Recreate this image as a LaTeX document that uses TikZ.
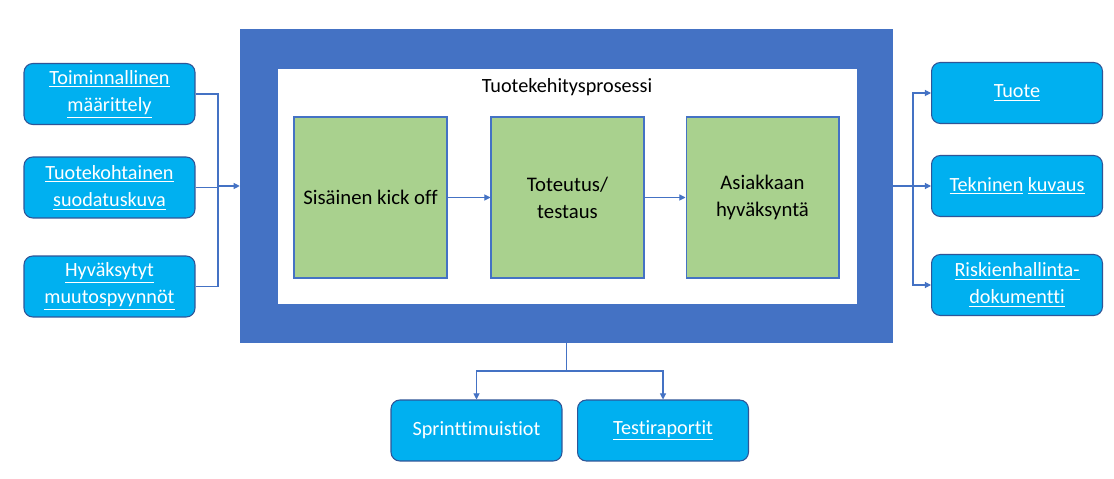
\documentclass[tikz,border=0pt]{standalone}
\usepackage{fontspec}
\setmainfont[Ligatures=NoCommon]{Carlito}
\usepackage{xcolor}
\definecolor{frameblue}{HTML}{4472C4}
\definecolor{boxblue}{HTML}{00B0F0}
\definecolor{boxedge}{HTML}{2F5597}
\definecolor{phasegreen}{HTML}{A9D18E}
\usepackage{tikz}
\usetikzlibrary{arrows.meta, positioning, calc}

\begin{document}
\begin{tikzpicture}[x=0.02cm, y=-0.02cm,
  outbox/.style={draw=boxedge, fill=boxblue, rounded corners=5pt, line width=0.6pt,
    minimum width=3.42cm, minimum height=1.22cm, align=center, text=white,
    font=\fontsize{11.5}{15.5}\selectfont},
  phase/.style={draw=frameblue, fill=phasegreen, line width=0.6pt,
    minimum width=3.06cm, minimum height=3.22cm, align=center,
    font=\fontsize{11.8}{15.5}\selectfont},
  conn/.style={draw=frameblue, line width=0.6pt, -{Triangle[length=3.5pt,width=3.5pt]}},
  wire/.style={draw=frameblue, line width=0.6pt}
]
  \fill[white] (0,0) rectangle (1114,479);
  \useasboundingbox (0,0) rectangle (1114,479);

  % process frame
  \node[fill=frameblue, inner sep=0pt, minimum width=13.06cm, minimum height=6.28cm] (frame) at (566.5,186) {};
  \node[fill=white, inner sep=0pt, minimum width=11.58cm, minimum height=4.7cm] (inner) at (567.5,186.5) {};
  \node[font=\fontsize{11.5}{15.5}\selectfont] (title) at (567,87) {Tuotekehitysprosessi};

  \node[phase] (kickoff) at (370.5,197.5) {Sisäinen kick off};
  \node[phase] (toteutus) at (567.5,197.5) {Toteutus/\\testaus};
  \node[phase] (hyvaksynta) at (762.5,197.5) {Asiakkaan\\hyväksyntä};

  \draw[conn] (kickoff) -- (toteutus);
  \draw[conn] (toteutus) -- (hyvaksynta);

  % inputs
  \node[outbox] (maarittely) at (109.5,94) {\underline{Toiminnallinen}\\\underline{määrittely}};
  \node[outbox] (suodatus) at (109.5,187.5) {\underline{Tuotekohtainen}\\\underline{suodatuskuva}};
  \node[outbox] (muutos) at (109.5,286.5) {\underline{Hyväksytyt}\\\underline{muutospyynnöt}};

  \coordinate (jin) at (218,186);
  \draw[wire] (maarittely.east) -| (jin);
  \draw[wire] (muutos.east) -| (jin);
  \draw[wire] (suodatus.east) -- (suodatus.east -| jin);
  \draw[conn] (jin) -- (frame.west);

  % outputs
  \node[outbox] (tuote) at (1017,93) {\underline{Tuote}};
  \node[outbox] (kuvaus) at (1017,186) {\underline{Tekninen} \underline{kuvaus}};
  \node[outbox] (riski) at (1017,285) {\underline{Riskienhallinta-}\\\underline{dokumentti}};

  \coordinate (jout) at (913,186);
  \draw[wire] (frame.east) -- (jout);
  \draw[conn] (jout) |- (tuote.west);
  \draw[conn] (jout) -- (kuvaus.west);
  \draw[conn] (jout) |- (riski.west);

  % documents
  \node[outbox] (muistiot) at (476.5,430.5) {Sprinttimuistiot};
  \node[outbox] (raportit) at (663,430.5) {\underline{Testiraportit}};

  \coordinate (jdown) at (566.5,371);
  \draw[wire] (frame.south) -- (jdown);
  \draw[conn] (jdown) -| (muistiot.north);
  \draw[conn] (jdown) -| (raportit.north);
\end{tikzpicture}
\end{document}
